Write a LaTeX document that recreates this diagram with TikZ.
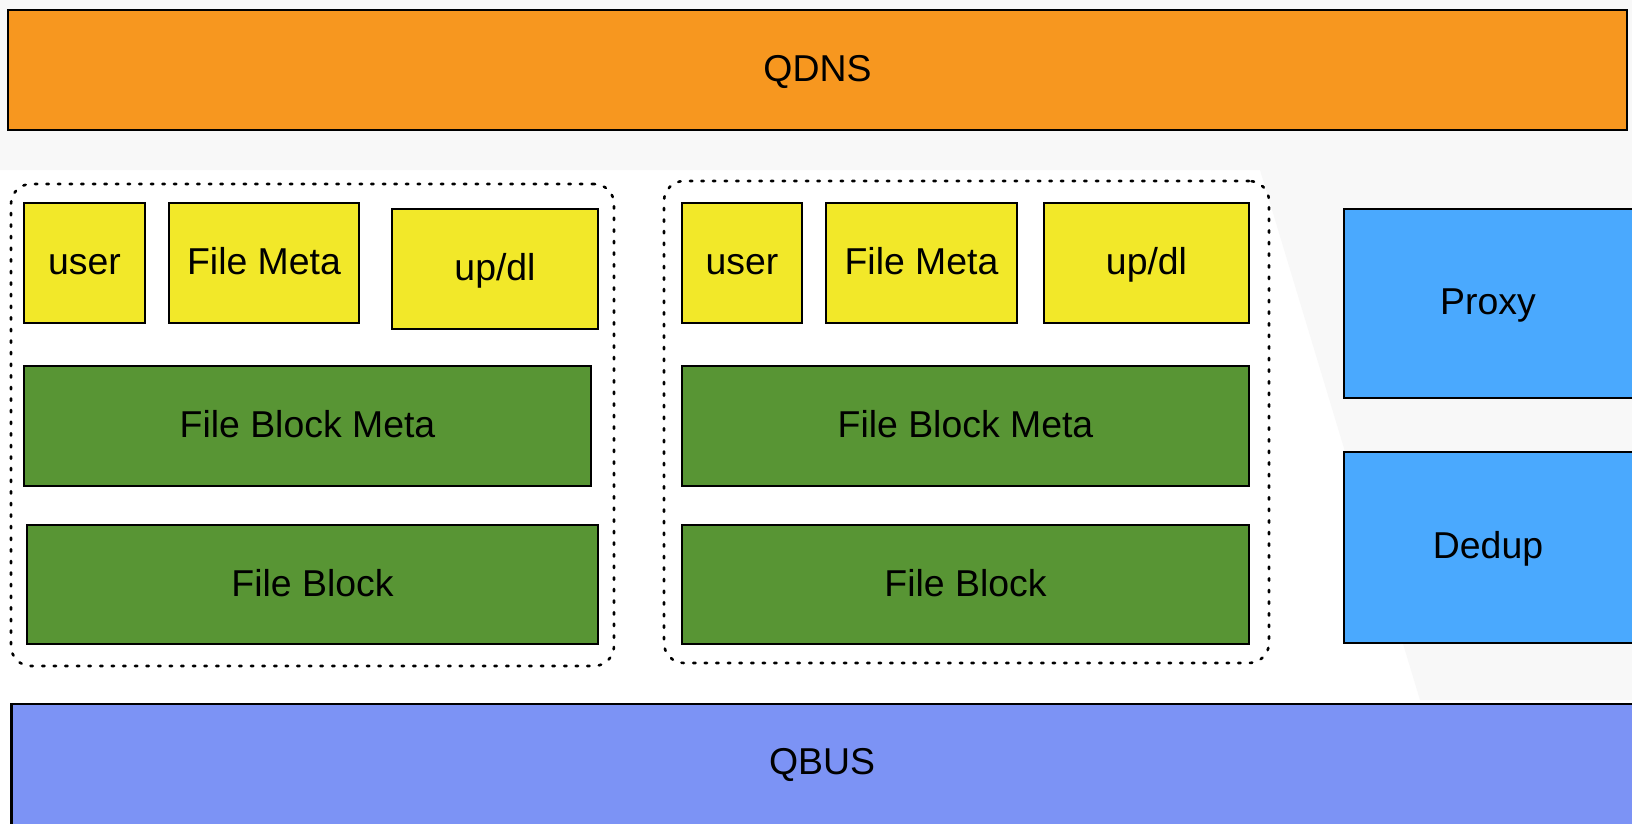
\documentclass[tikz,border=0pt]{standalone}
\usepackage{fontspec}
\setmainfont{Liberation Sans}
\usetikzlibrary{fit}
\definecolor{qdns}{HTML}{F7971F}
\definecolor{yel}{HTML}{F2E829}
\definecolor{grn}{HTML}{589534}
\definecolor{blu}{HTML}{4AA9FE}
\definecolor{bus}{HTML}{7C93F5}
\definecolor{wm}{HTML}{F8F8F8}
\begin{document}
\begin{tikzpicture}[x=0.5pt,y=-0.5pt,
  txt/.style={font=\fontsize{18.7}{22}\selectfont, inner sep=0pt, text height=1.15em, text depth=0pt},
  every label/.style={txt},
  box/.style={draw=black, line width=1.4pt, inner sep=0pt},
  ybox/.style={box, fill=yel},
  gbox/.style={box, fill=grn},
  bbox/.style={box, fill=blu},
  group/.style={draw=black, fill=white, line width=1.3pt, dash pattern=on 1.2pt off 4.6pt, line cap=round, rounded corners=10pt, inner sep=0pt}]
\useasboundingbox (0,0) rectangle (1632,824);
\clip (0,0) rectangle (1632,824);
\fill[white] (0,0) rectangle (1632,824);
% faint background
\fill[wm] (0,0) -- (1632,0) -- (1632,700) -- (1420,700) -- (1260,170) -- (0,170) -- cycle;
% top and bottom bars
\node[box, fill=qdns, fit={(8,10)(1627,130)}, label=center:QDNS] (qdns) {};
\node[box, fill=bus, fit={(11.5,704)(1640,830)}] (qbus) {};
\node[txt] (qbust) at (822,763) {QBUS};
% group 1
\node[group, fit={(11,184)(614,666)}] (g1) {};
\node[ybox, fit={(24,203)(145,323)}, label=center:user] (user1) {};
\node[ybox, fit={(169,203)(359,323)}, label=center:File Meta] (fm1) {};
\node[ybox, fit={(392,209)(598,329)}, label=center:up/dl] (ud1) {};
\node[gbox, fit={(24,366)(591,486)}, label=center:File Block Meta] (fbm1) {};
\node[gbox, fit={(27,525)(598,644)}, label=center:File Block] (fb1) {};
% group 2
\node[group, fit={(664,181)(1269,663)}] (g2) {};
\node[ybox, fit={(682,203)(802,323)}, label=center:user] (user2) {};
\node[ybox, fit={(826,203)(1017,323)}, label=center:File Meta] (fm2) {};
\node[ybox, fit={(1044,203)(1249,323)}, label=center:up/dl] (ud2) {};
\node[gbox, fit={(682,366)(1249,486)}, label=center:File Block Meta] (fbm2) {};
\node[gbox, fit={(682,525)(1249,644)}, label=center:File Block] (fb2) {};
% right column
\node[bbox, fit={(1344,209)(1634,398)}] (proxy) {};
\node[txt] (proxyt) at (1488,303) {Proxy};
\node[bbox, fit={(1344,452)(1634,643)}] (dedup) {};
\node[txt] (dedupt) at (1488,547) {Dedup};
\end{tikzpicture}
\end{document}
